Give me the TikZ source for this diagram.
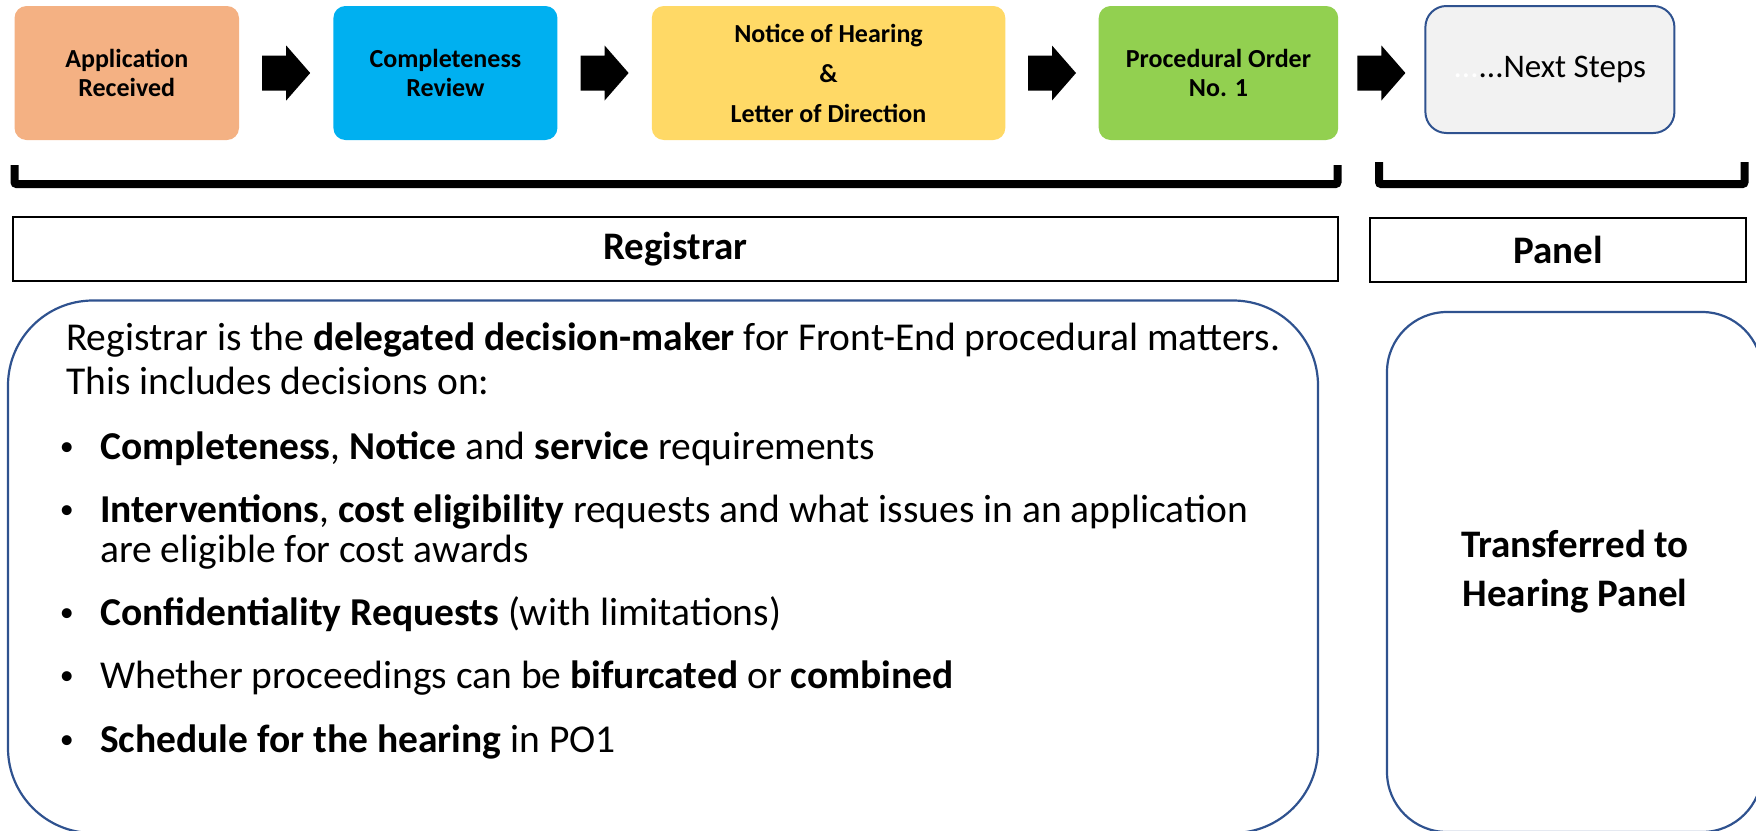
\documentclass[tikz,border=0pt]{standalone}
\usepackage{fontspec}
\setmainfont{Carlito}
\usetikzlibrary{positioning,calc}
\definecolor{appfill}{HTML}{F4B183}
\definecolor{reviewfill}{HTML}{00B0F0}
\definecolor{noticefill}{HTML}{FFD966}
\definecolor{orderfill}{HTML}{92D050}
\definecolor{nextfill}{HTML}{F2F2F2}
\definecolor{frameblue}{HTML}{2F528F}

\begin{document}
\begin{tikzpicture}[x=1pt, y=-1pt,
  stage/.style={rounded corners=12pt, inner sep=0pt, minimum height=134pt,
    align=center, font=\bfseries\fontsize{26}{29}\selectfont},
  role/.style={draw, line width=1.8pt, inner sep=0pt, minimum height=64pt,
    font=\bfseries\fontsize{39}{44}\selectfont},
  bodytext/.style={anchor=base west, inner sep=0pt, font=\fontsize{39.5}{44}\selectfont},
  bracket/.style={line width=8pt, rounded corners=2pt},
  duties/.style={draw=frameblue, line width=2.2pt}]

  \useasboundingbox (0,0) rectangle (1756,830);
  \clip (0,0) rectangle (1756,830);

  % process steps
  \node[stage, fill=appfill, minimum width=224.5pt] (app) at (126.75,73) {Application\\Received};
  \node[stage, fill=reviewfill, minimum width=224pt, right=94pt of app] (review) {Completeness\\Review};
  \node[stage, fill=noticefill, minimum width=353.5pt, right=94pt of review,
    font=\bfseries\fontsize{26}{40}\selectfont] (notice) {Notice of Hearing\\\&\\Letter of Direction};
  \node[stage, fill=orderfill, minimum width=239.5pt, right=93pt of notice] (order) {Procedural Order\\No. 1};
  \node[stage, draw=frameblue, line width=2pt, fill=nextfill, rounded corners=21pt,
    minimum width=249pt, minimum height=127pt, right=86pt of order, yshift=3.5pt,
    font=\fontsize{33}{38}\selectfont] (next) {{\color{white}...}...Next Steps};

  % block arrows between the steps
  \foreach \a/\b in {app/review, review/notice, notice/order, order/next}
    \fill ($(\a.east)!0.5!(\b.west |- \a.east)$) ++(-24,-17.5) -- ++(24,0) -- ++(0,-10)
      -- ++(24,27.5) -- ++(-24,27.5) -- ++(0,-10) -- ++(-24,0) -- cycle;

  % who owns which steps
  \draw[bracket] (14.5,165) -- (14.5,184) -- (1337.5,184) -- (1337.5,165);
  \draw[bracket] (1379,162) -- (1379,184) -- (1744.5,184) -- (1744.5,162);
  \node[role, minimum width=1325pt] (registrar) at (675.3,249) {Registrar};
  \node[role, minimum width=376pt] (panel) at (1558,250) {Panel};

  % registrar duties
  \draw[duties, rounded corners=85pt] (8,300.5) rectangle (1318,833);
  \node[bodytext] (intro1) at (66,350) {Registrar is the \textbf{delegated decision-maker} for Front-End procedural matters.};
  \node[bodytext] (intro2) at (66,394) {This includes decisions on:};
  \node[bodytext] (item1) at (100,459) {\textbf{Completeness}, \textbf{Notice} and \textbf{service} requirements};
  \node[bodytext] (item2) at (100,522) {\textbf{Interventions}, \textbf{cost eligibility} requests and what issues in an application};
  \node[bodytext] (item2b) at (100,562) {are eligible for cost awards};
  \node[bodytext] (item3) at (100,625) {\textbf{Confidentiality Requests} (with limitations)};
  \node[bodytext] (item4) at (100,688) {Whether proceedings can be \textbf{bifurcated} or \textbf{combined}};
  \node[bodytext] (item5) at (100,752) {\textbf{Schedule for the hearing} in PO1};
  \foreach \i in {item1,item2,item3,item4,item5}
    \node[bodytext, anchor=base east, font=\fontsize{28}{30}\selectfont]
      at ([xshift=-26pt, yshift=4pt]\i.base west) {•};

  % panel side
  \draw[duties, rounded corners=60pt] (1387,312) rectangle (1762,832);
  \node[align=center, font=\bfseries\fontsize{39}{49}\selectfont] (transfer) at (1575,572)
    {Transferred to\\Hearing Panel};
\end{tikzpicture}
\end{document}
